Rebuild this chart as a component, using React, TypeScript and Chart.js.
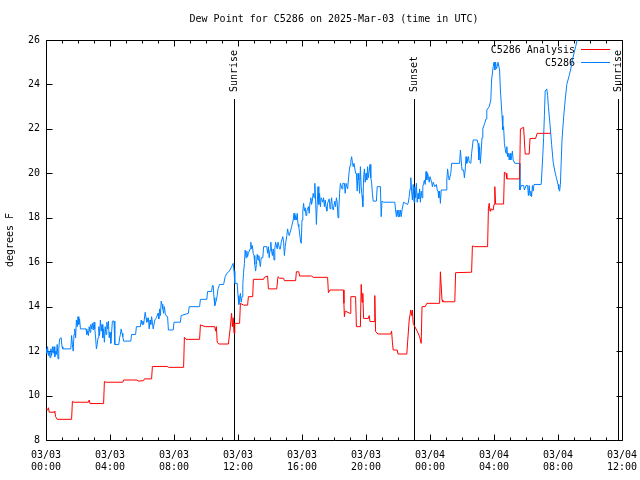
import React, { useEffect, useRef } from "react";
import { Chart, registerables } from "chart.js";

Chart.register(...registerables);

const FONT = '"DejaVu Sans Mono", "Liberation Mono", monospace';

const TITLE = "Dew Point for C5286 on 2025-Mar-03 (time in UTC)";
const Y_LABEL = "degrees F";
const Y_MIN = 8;
const Y_MAX = 26;
const X_MAX_HOURS = 36;
const X_TICK_DATES = ["03/03", "03/03", "03/03", "03/03", "03/03", "03/03", "03/04", "03/04", "03/04", "03/04"];
const X_TICK_TIMES = ["00:00", "04:00", "08:00", "12:00", "16:00", "20:00", "00:00", "04:00", "08:00", "12:00"];

const SUN_EVENT_HOURS = [11.75, 23.0, 35.75];
const SUN_EVENT_LABELS = ["Sunrise", "Sunset", "Sunrise"];

const SERIES_NAMES = ["C5286 Analysis", "C5286"];
const SERIES_COLORS = ["#ff0000", "#0080ff"];

// hours since 03/03 00:00 UTC, dew point (F)
const ANALYSIS_SERIES: [number, number][] = [
  [0.0, 9.4], [0.1, 9.35], [0.15, 9.45], [0.2, 9.25], [0.5, 9.25], [0.55, 9.3], [0.6, 9.05], [0.7, 8.93],
  [1.6, 8.93], [1.65, 9.73], [1.75, 9.7], [2.65, 9.7], [2.7, 9.8], [2.75, 9.64], [3.6, 9.64], [3.65, 10.63],
  [3.75, 10.6], [4.8, 10.6], [4.85, 10.7], [5.7, 10.7], [5.75, 10.65], [6.1, 10.67], [6.15, 10.75], [6.6, 10.75],
  [6.65, 11.31], [7.6, 11.31], [7.65, 11.27], [8.6, 11.27], [8.65, 12.62], [8.75, 12.53], [9.6, 12.53],
  [9.65, 13.18], [9.95, 13.1], [10.55, 13.1], [10.6, 12.9], [10.65, 13.1], [10.7, 12.4], [10.8, 12.32],
  [11.4, 12.32], [11.5, 12.95], [11.6, 13.7], [11.65, 13.1], [11.7, 13.5], [11.75, 12.8], [11.8, 13.25],
  [12.1, 13.25], [12.15, 14.15], [12.35, 14.07], [12.6, 14.07], [12.65, 14.45], [12.92, 14.45], [12.96, 15.23],
  [13.6, 15.23], [13.65, 15.32], [13.85, 15.38], [13.9, 14.8], [14.42, 14.8], [14.5, 15.35], [14.6, 15.28],
  [14.85, 15.28], [14.9, 15.17], [15.6, 15.17], [15.65, 15.57], [15.8, 15.57], [15.85, 15.38], [16.6, 15.38],
  [16.7, 15.32], [17.6, 15.32], [17.65, 14.63], [17.75, 14.75], [18.6, 14.75], [18.62, 14.15], [18.65, 13.55],
  [18.7, 13.8], [19.0, 13.7], [19.05, 14.45], [19.35, 14.45], [19.4, 13.1], [19.65, 13.1], [19.7, 15.0],
  [19.75, 14.2], [19.8, 14.6], [19.85, 13.47], [20.15, 13.47], [20.2, 13.6], [20.25, 13.33], [20.5, 13.33],
  [20.55, 14.5], [20.6, 12.88], [20.75, 12.77], [21.55, 12.77], [21.6, 12.9], [21.65, 12.4], [21.7, 12.05],
  [21.95, 12.05], [22.0, 11.87], [22.55, 11.87], [22.6, 12.4], [22.7, 13.4], [22.8, 13.85], [22.85, 13.6],
  [22.9, 13.85], [22.95, 13.25], [23.05, 13.1], [23.2, 12.9], [23.35, 12.65], [23.45, 12.35], [23.5, 14.0],
  [23.7, 14.0], [23.8, 14.15], [24.6, 14.15], [24.65, 15.57], [24.75, 14.3], [24.8, 14.22], [25.55, 14.22],
  [25.6, 15.53], [26.6, 15.55], [26.65, 16.73], [26.8, 16.7], [27.6, 16.7], [27.65, 18.4], [27.7, 18.65],
  [27.75, 18.3], [27.8, 18.4], [27.95, 18.35], [28.0, 18.6], [28.05, 19.4], [28.1, 18.62], [28.6, 18.62],
  [28.65, 20.05], [28.75, 20.0], [28.8, 19.75], [29.6, 19.75], [29.65, 22.0], [29.85, 22.07], [29.95, 20.87],
  [30.2, 20.87], [30.25, 21.57], [30.6, 21.57], [30.7, 21.8], [31.55, 21.8],
];

const STATION_SERIES: [number, number][] = [
  [0.0, 12.1], [0.05, 11.9], [0.1, 12.2], [0.15, 11.8], [0.2, 12.0], [0.25, 11.7], [0.3, 12.1], [0.35, 11.8],
  [0.4, 12.2], [0.45, 11.9], [0.5, 12.2], [0.55, 11.75], [0.6, 12.0], [0.65, 11.85], [0.7, 12.3], [0.75, 11.65],
  [0.8, 12.1], [0.85, 12.55], [0.95, 12.6], [1.0, 12.2], [1.05, 12.1], [1.55, 12.1], [1.6, 12.7], [1.65, 12.3],
  [1.7, 12.0], [1.75, 12.75], [1.8, 13.0], [1.85, 12.6], [1.9, 13.4], [1.95, 13.1], [2.0, 13.55], [2.05, 13.2],
  [2.1, 13.45], [2.15, 13.0], [2.5, 13.0], [2.55, 12.75], [2.6, 12.9], [2.65, 12.7], [2.7, 13.1], [2.75, 12.85],
  [2.8, 13.2], [2.85, 13.0], [2.9, 13.25], [2.95, 12.95], [3.0, 13.3], [3.05, 13.0], [3.1, 12.6], [3.15, 12.1],
  [3.2, 12.3], [3.25, 12.6], [3.3, 13.1], [3.35, 12.7], [3.4, 13.4], [3.45, 12.9], [3.5, 13.2], [3.55, 12.6],
  [3.6, 13.0], [3.65, 12.4], [3.7, 13.1], [3.75, 12.75], [3.8, 13.3], [3.85, 13.0], [3.9, 13.35], [3.95, 12.6],
  [4.0, 12.85], [4.05, 12.35], [4.15, 13.35], [4.25, 13.35], [4.3, 12.3], [4.55, 12.3], [4.6, 12.6],
  [4.65, 12.75], [4.7, 13.0], [4.75, 12.8], [4.8, 12.65], [4.85, 12.45], [5.3, 12.45], [5.35, 12.75],
  [5.6, 12.75], [5.65, 13.1], [5.9, 13.1], [5.95, 13.4], [6.0, 13.2], [6.05, 13.35], [6.1, 13.2], [6.2, 13.75],
  [6.25, 13.5], [6.3, 13.3], [6.4, 13.5], [6.45, 13.0], [6.5, 13.4], [6.55, 13.2], [6.6, 13.55], [6.65, 13.3],
  [6.7, 13.0], [6.8, 13.4], [6.9, 13.5], [7.0, 13.7], [7.05, 13.45], [7.1, 13.9], [7.15, 13.6], [7.2, 14.25],
  [7.25, 14.1], [7.3, 13.9], [7.35, 13.7], [7.4, 14.0], [7.45, 13.7], [7.5, 13.6], [7.6, 13.55], [7.65, 12.95],
  [7.95, 12.95], [8.0, 13.3], [8.4, 13.3], [8.45, 13.6], [8.9, 13.7], [8.95, 14.0], [9.6, 14.0], [9.65, 14.33],
  [10.05, 14.33], [10.1, 14.68], [10.35, 14.68], [10.4, 14.95], [10.45, 14.95], [10.5, 14.4], [10.55, 14.05],
  [10.65, 14.3], [10.7, 14.5], [10.75, 14.8], [10.85, 15.0], [11.1, 15.0], [11.2, 15.35], [11.3, 15.5],
  [11.4, 15.55], [11.5, 15.65], [11.6, 15.8], [11.7, 15.95], [11.75, 15.6], [11.8, 15.05], [11.95, 15.05],
  [12.0, 14.5], [12.05, 14.1], [12.1, 14.3], [12.15, 14.6], [12.2, 14.2], [12.25, 14.45], [12.3, 15.0],
  [12.35, 15.55], [12.4, 15.95], [12.45, 16.55], [12.5, 16.2], [12.55, 16.5], [12.6, 16.25], [12.65, 16.4],
  [12.75, 16.6], [12.8, 16.9], [12.85, 16.6], [12.9, 16.75], [12.95, 16.4], [13.0, 16.3], [13.05, 15.9],
  [13.1, 15.6], [13.15, 15.9], [13.2, 16.35], [13.25, 16.1], [13.3, 16.3], [13.35, 16.0], [13.4, 15.8],
  [13.45, 16.2], [13.55, 16.2], [13.6, 16.7], [13.8, 16.7], [13.85, 16.4], [13.9, 16.7], [13.95, 16.2],
  [14.0, 16.55], [14.05, 16.9], [14.1, 16.5], [14.15, 16.3], [14.2, 16.6], [14.25, 16.1], [14.3, 16.6],
  [14.35, 16.9], [14.45, 16.6], [14.5, 16.9], [14.6, 16.6], [14.65, 16.6], [14.7, 16.9], [14.8, 17.15],
  [14.85, 16.9], [14.9, 16.3], [14.95, 16.7], [15.05, 17.2], [15.1, 17.5], [15.15, 17.3], [15.2, 17.2],
  [15.3, 17.45], [15.35, 17.6], [15.45, 17.9], [15.5, 18.2], [15.55, 17.9], [15.6, 18.1], [15.65, 17.9],
  [15.7, 18.2], [15.75, 17.7], [15.8, 17.6], [15.85, 17.3], [15.9, 17.0], [15.95, 16.85], [16.0, 17.9],
  [16.05, 18.3], [16.1, 18.65], [16.15, 18.3], [16.2, 18.45], [16.25, 18.1], [16.3, 18.3], [16.4, 18.5],
  [16.45, 18.2], [16.5, 18.7], [16.55, 18.9], [16.6, 18.6], [16.65, 18.8], [16.7, 19.1], [16.75, 18.9],
  [16.8, 19.55], [16.85, 18.8], [16.9, 17.7], [16.95, 18.6], [17.0, 19.4], [17.05, 18.6], [17.1, 19.1],
  [17.15, 18.5], [17.2, 18.9], [17.3, 18.7], [17.35, 18.9], [17.4, 18.5], [17.45, 18.8], [17.5, 18.5],
  [17.55, 18.3], [17.6, 18.65], [17.7, 18.85], [17.75, 18.4], [17.8, 18.6], [17.85, 18.9], [17.9, 18.5],
  [17.95, 18.35], [18.05, 18.75], [18.1, 18.5], [18.15, 18.9], [18.2, 18.7], [18.25, 18.0], [18.3, 18.4],
  [18.35, 19.1], [18.4, 19.55], [18.5, 19.3], [18.55, 19.55], [18.65, 19.55], [18.7, 19.1], [18.75, 19.55],
  [18.8, 19.55], [18.85, 19.3], [18.9, 19.7], [18.95, 20.1], [19.0, 20.35], [19.05, 20.55], [19.1, 20.75],
  [19.15, 20.5], [19.2, 20.3], [19.25, 20.45], [19.35, 20.0], [19.4, 20.0], [19.45, 19.2], [19.5, 20.0],
  [19.55, 19.7], [19.6, 19.1], [19.65, 20.3], [19.7, 19.4], [19.75, 19.0], [19.8, 18.5], [19.85, 19.8],
  [19.9, 20.2], [19.95, 19.6], [20.0, 20.0], [20.05, 19.7], [20.1, 20.3], [20.15, 19.8], [20.2, 20.1],
  [20.25, 20.4], [20.3, 19.8], [20.35, 19.6], [20.4, 19.1], [20.45, 18.75], [20.65, 18.75], [20.7, 19.4],
  [20.9, 19.4], [20.95, 18.05], [21.0, 18.75], [21.1, 18.7], [21.8, 18.7], [21.85, 18.35], [21.9, 18.05],
  [21.95, 18.35], [22.0, 18.05], [22.05, 18.35], [22.1, 18.05], [22.15, 18.35], [22.2, 18.05], [22.25, 18.35],
  [22.3, 18.35], [22.35, 18.7], [22.6, 18.6], [22.65, 18.7], [22.7, 18.95], [22.75, 19.3], [22.8, 19.8],
  [22.85, 19.2], [22.9, 18.8], [22.95, 19.5], [23.0, 18.7], [23.05, 19.4], [23.1, 18.9], [23.15, 19.55],
  [23.2, 18.7], [23.25, 19.1], [23.3, 18.85], [23.35, 19.3], [23.4, 18.7], [23.45, 19.2], [23.5, 18.9],
  [23.55, 19.4], [23.6, 19.55], [23.65, 19.7], [23.7, 19.5], [23.75, 20.08], [23.8, 19.7], [23.85, 20.0],
  [23.9, 19.85], [23.95, 19.6], [24.0, 19.85], [24.1, 19.6], [24.15, 19.4], [24.2, 19.6], [24.3, 19.4],
  [24.4, 19.5], [24.45, 19.25], [24.5, 19.2], [24.55, 18.9], [24.6, 19.2], [24.65, 18.65], [24.7, 19.25],
  [25.0, 19.25], [25.05, 19.7], [25.1, 20.2], [25.15, 19.9], [25.2, 19.7], [25.3, 20.0], [25.35, 20.45],
  [25.85, 20.45], [25.9, 21.05], [25.95, 20.6], [26.0, 20.15], [26.1, 20.15], [26.15, 19.8], [26.2, 20.15],
  [26.25, 20.75], [26.3, 20.45], [26.4, 20.75], [26.45, 20.5], [26.55, 20.45], [26.6, 20.9], [26.7, 21.5],
  [26.95, 21.5], [27.0, 21.35], [27.05, 20.6], [27.1, 21.2], [27.15, 20.45], [27.2, 21.0], [27.25, 21.6],
  [27.3, 22.0], [27.4, 22.2], [27.5, 22.45], [27.55, 22.85], [27.7, 23.0], [27.8, 23.3], [27.85, 24.2],
  [27.95, 24.8], [28.0, 25.0], [28.05, 24.65], [28.1, 25.0], [28.15, 24.7], [28.2, 24.8], [28.25, 25.0],
  [28.35, 24.65], [28.4, 23.75], [28.5, 22.6], [28.55, 21.95], [28.6, 22.1], [28.65, 21.35], [28.7, 21.1],
  [28.75, 20.9], [28.8, 21.2], [28.85, 20.75], [28.9, 20.9], [28.95, 20.6], [29.0, 20.9], [29.05, 20.6],
  [29.1, 20.75], [29.15, 21.0], [29.2, 20.6], [29.3, 20.45], [29.6, 20.45], [29.62, 19.25], [29.7, 19.45],
  [29.85, 19.45], [29.9, 19.25], [30.0, 19.45], [30.1, 19.45], [30.15, 19.0], [30.2, 19.45], [30.25, 19.0],
  [30.3, 19.2], [30.35, 18.95], [30.4, 19.45], [30.45, 19.2], [30.5, 19.5], [30.95, 19.5], [31.05, 20.8],
  [31.1, 21.6], [31.15, 22.6], [31.2, 23.7], [31.3, 23.8], [31.35, 23.5], [31.4, 23.0], [31.5, 22.2],
  [31.6, 21.3], [31.7, 20.5], [31.8, 20.1], [31.9, 19.8], [32.0, 19.5], [32.05, 19.3], [32.1, 19.2],
  [32.15, 19.5], [32.2, 20.5], [32.25, 21.5], [32.35, 22.5], [32.45, 23.3], [32.55, 24.0], [32.7, 24.4],
  [32.8, 24.7], [32.9, 25.1], [33.0, 25.4], [33.1, 25.7], [33.2, 26.0], [33.3, 26.3],
];

const decorPlugin = {
  id: "decor",
  beforeDatasetsDraw(chart: any) {
    const { ctx, chartArea: a, scales } = chart;
    const xs = scales.x;
    const ys = scales.y;
    ctx.save();
    ctx.strokeStyle = "#000";
    ctx.fillStyle = "#000";
    ctx.lineWidth = 1;
    ctx.font = `10px ${FONT}`;

    // title
    ctx.textAlign = "center";
    ctx.textBaseline = "middle";
    ctx.fillText(TITLE, (a.left + a.right) / 2, 19);

    // y label
    ctx.save();
    ctx.translate(10, (a.top + a.bottom) / 2);
    ctx.rotate(-Math.PI / 2);
    ctx.fillText(Y_LABEL, 0, 0);
    ctx.restore();

    // border
    const L = Math.round(a.left) + 0.5;
    const R = Math.round(a.right) + 0.5;
    const T = Math.round(a.top) + 0.5;
    const B = Math.round(a.bottom) + 0.5;
    ctx.beginPath();
    ctx.rect(L, T, R - L, B - T);
    ctx.stroke();

    // x ticks (inward, mirrored)
    ctx.beginPath();
    for (let h = 0; h <= X_MAX_HOURS; h++) {
      const px = Math.round(xs.getPixelForValue(h)) + 0.5;
      const len = h % 4 === 0 ? 6 : 3;
      ctx.moveTo(px, B);
      ctx.lineTo(px, B - len);
      ctx.moveTo(px, T);
      ctx.lineTo(px, T + len);
    }
    // y ticks
    for (let v = Y_MIN; v <= Y_MAX; v += 2) {
      const py = Math.round(ys.getPixelForValue(v)) + 0.5;
      ctx.moveTo(L, py);
      ctx.lineTo(L + 6, py);
      ctx.moveTo(R, py);
      ctx.lineTo(R - 6, py);
    }
    ctx.stroke();

    // sun events
    SUN_EVENT_HOURS.forEach((h, i) => {
      const px = Math.round(xs.getPixelForValue(h)) + 0.5;
      ctx.beginPath();
      ctx.moveTo(px, a.top + 59);
      ctx.lineTo(px, B);
      ctx.stroke();
      ctx.save();
      ctx.translate(px, a.top + 52);
      ctx.rotate(-Math.PI / 2);
      ctx.textAlign = "left";
      ctx.textBaseline = "middle";
      ctx.fillText(SUN_EVENT_LABELS[i], 0, 0);
      ctx.restore();
    });

    // legend
    SERIES_NAMES.forEach((name, i) => {
      const y = a.top + 9 + i * 13;
      ctx.textAlign = "right";
      ctx.textBaseline = "middle";
      ctx.fillStyle = "#000";
      ctx.fillText(name, a.right - 47, y + 1);
      ctx.strokeStyle = SERIES_COLORS[i];
      ctx.beginPath();
      ctx.moveTo(a.right - 41, Math.round(y) + 0.5);
      ctx.lineTo(a.right - 12, Math.round(y) + 0.5);
      ctx.stroke();
    });
    ctx.restore();
  },
};

export default function App() {
  const canvasRef = useRef<HTMLCanvasElement | null>(null);

  useEffect(() => {
    if (!canvasRef.current) return;
    const chart = new Chart(canvasRef.current, {
      type: "line",
      data: {
        datasets: [
          {
            label: SERIES_NAMES[0],
            data: ANALYSIS_SERIES.map(([x, y]) => ({ x, y })),
            borderColor: SERIES_COLORS[0],
            borderWidth: 1,
            pointRadius: 0,
            tension: 0,
            fill: false,
          },
          {
            label: SERIES_NAMES[1],
            data: STATION_SERIES.map(([x, y]) => ({ x, y })),
            borderColor: SERIES_COLORS[1],
            borderWidth: 1,
            pointRadius: 0,
            tension: 0,
            fill: false,
          },
        ],
      },
      options: {
        animation: false,
        responsive: false,
        devicePixelRatio: 1,
        layout: { padding: { top: 40, right: 18, bottom: 0, left: 0 } },
        plugins: {
          legend: { display: false },
          title: { display: false },
          tooltip: { enabled: false },
        },
        scales: {
          x: {
            type: "linear",
            min: 0,
            max: X_MAX_HOURS,
            grid: { display: false, drawTicks: false },
            border: { display: false },
            ticks: {
              stepSize: 4,
              autoSkip: false,
              maxRotation: 0,
              padding: 9,
              color: "#000",
              font: { family: FONT, size: 10 },
              callback: (v: any) => {
                const i = Math.round(Number(v) / 4);
                return [X_TICK_DATES[i], X_TICK_TIMES[i]];
              },
            },
            afterFit: (s: any) => {
              s.height = 40;
              s.paddingLeft = 0;
              s.paddingRight = 0;
            },
          },
          y: {
            min: Y_MIN,
            max: Y_MAX,
            grid: { display: false, drawTicks: false },
            border: { display: false },
            ticks: {
              stepSize: 2,
              padding: 6,
              color: "#000",
              font: { family: FONT, size: 10 },
            },
            afterFit: (s: any) => {
              s.width = 46;
              s.paddingTop = 0;
              s.paddingBottom = 0;
            },
          },
        },
      },
      plugins: [decorPlugin],
    });
    return () => chart.destroy();
  }, []);

  return (
    <div style={{ position: "absolute", left: 0, top: 0, width: 640, height: 480, background: "#fff" }}>
      <canvas ref={canvasRef} width={640} height={480} style={{ display: "block" }} />
    </div>
  );
}
